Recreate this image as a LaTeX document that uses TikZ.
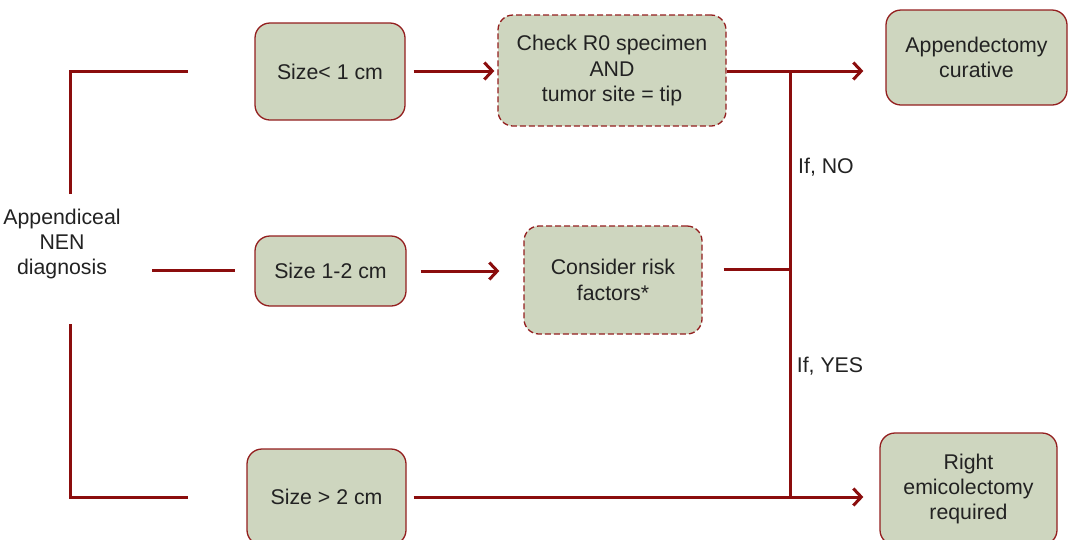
\documentclass[tikz,border=0pt]{standalone}
\usepackage{fontspec}
\setmainfont{Liberation Sans}
\usetikzlibrary{arrows.meta}
\definecolor{linered}{HTML}{8B0D0D}
\definecolor{boxfill}{HTML}{CED6BF}
\definecolor{boxline}{HTML}{931F1F}
\definecolor{txt}{HTML}{222222}
\begin{document}
\begin{tikzpicture}[x=1pt,y=-1pt,
  every node/.style={font=\fontsize{21.3}{25.3}\selectfont, text=txt, align=center},
  box/.style={draw=boxline, fill=boxfill, line width=1.3pt, rounded corners=15pt, inner sep=0pt},
  dbox/.style={box, dash pattern=on 6pt off 3pt},
  conn/.style={draw=linered, line width=3pt},
  arr/.style={conn, -{Straight Barb[length=8pt,width=17pt,line width=3pt]}},
  lbl/.style={inner sep=0pt}
]
\useasboundingbox (0,0) rectangle (1068,539);
% boxes
\node[box, minimum width=150pt, minimum height=97pt] (s1) at (330,71.5) {Size< 1 cm};
\node[dbox, minimum width=228pt, minimum height=111pt] (chk) at (612,70.5) {Check R0 specimen\\AND\\tumor site = tip};
\node[box, minimum width=181pt, minimum height=95pt] (app) at (976.5,57.5) {Appendectomy\\curative};
\node[box, minimum width=151pt, minimum height=70pt] (s2) at (330.5,271) {Size 1-2 cm};
\node[dbox, minimum width=178pt, minimum height=108pt] (risk) at (613,280) {Consider risk\\factors*};
\node[box, minimum width=159pt, minimum height=96pt] (s3) at (326.5,497) {Size > 2 cm};
\node[box, minimum width=177pt, minimum height=112pt] (rem) at (968.5,489) {Right\\emicolectomy\\required};
% left text
\node[lbl] (diag) at (62,244) {Appendiceal\\NEN\\diagnosis};
\node[lbl] (no) at (826,167) {If, NO};
\node[lbl] (yes) at (830,366) {If, YES};
% coordinates
\coordinate (b1a) at (70,194);
\coordinate (b1c) at (70,71);
\coordinate (b1b) at (188,71);
\coordinate (b2a) at (70,324);
\coordinate (b2c) at (70,497);
\coordinate (b2b) at (188,497);
\coordinate (m1) at (152,270);
\coordinate (m2) at (235,270);
\coordinate (j1) at (790,71);
\coordinate (j2) at (790,269);
\coordinate (j3) at (790,497);
% connectors
\draw[conn] (b1a) -- (b1c) -- (b1b);
\draw[conn] (b2a) -- (b2c) -- (b2b);
\draw[conn] (m1) -- (m2);
\draw[arr, shorten <=8pt, shorten >=3pt] (s1.east |- j1) -- (chk.west |- j1);
\draw[arr, shorten <=14pt, shorten >=24pt] (s2.east) -- (s2.east -| risk.west);
\draw[arr, shorten >=22pt] (chk.east |- j1) -- (j1 -| app.west);
\draw[conn] (j1) -- (j3);
\draw[conn, shorten <=21pt] (risk.east |- j2) -- (j2);
\draw[arr, shorten <=7pt, shorten >=16pt] (s3.east) -- (s3.east -| rem.west);
\end{tikzpicture}
\end{document}
